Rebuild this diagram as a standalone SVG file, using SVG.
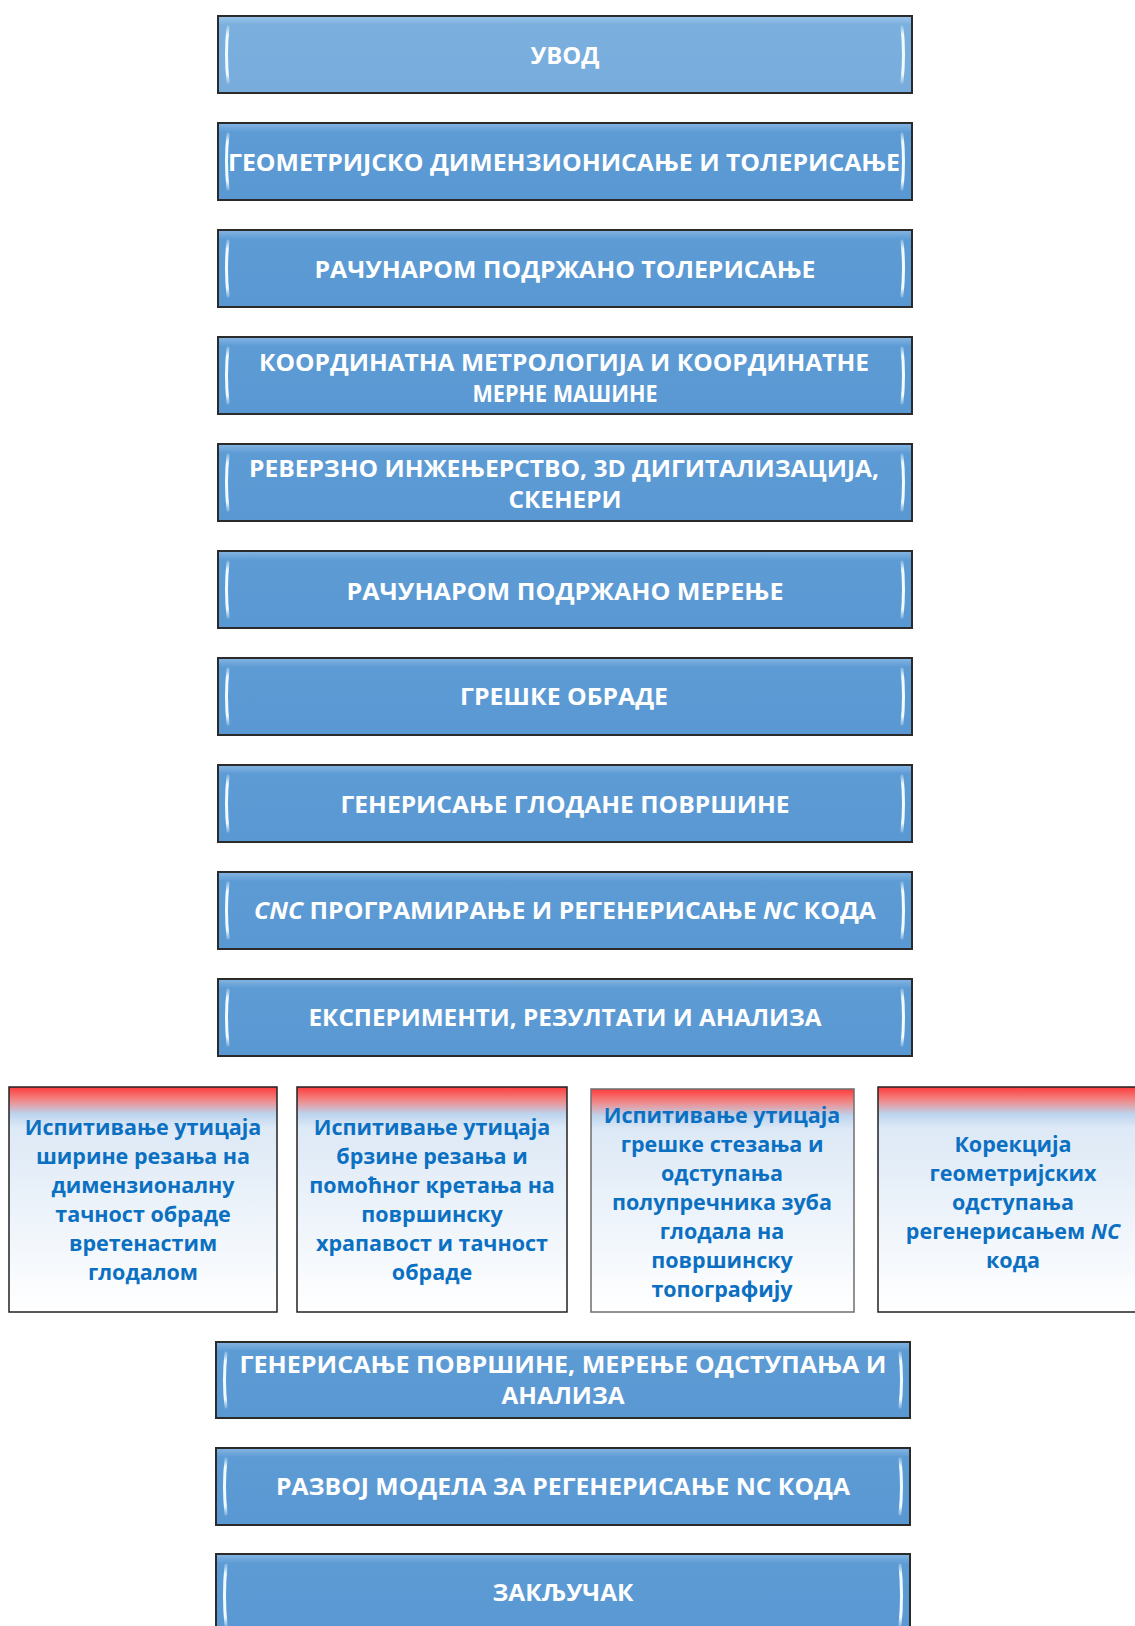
<svg xmlns="http://www.w3.org/2000/svg" width="1135" height="1626" viewBox="0 0 1135 1626">
<defs>
<linearGradient id="gTop" x1="0" y1="0" x2="0" y2="1">
<stop offset="0" stop-color="#9cc5ea"/><stop offset="0.12" stop-color="#7aafde"/><stop offset="1" stop-color="#78acdc"/>
</linearGradient>
<linearGradient id="gMain" x1="0" y1="0" x2="0" y2="1">
<stop offset="0" stop-color="#86b6e2"/><stop offset="0.12" stop-color="#5d9bd5"/><stop offset="1" stop-color="#5a98d3"/>
</linearGradient>
<linearGradient id="gSmall" x1="0" y1="0" x2="0" y2="1">
<stop offset="0" stop-color="#ff3b3b"/><stop offset="0.06" stop-color="#f08a8a"/><stop offset="0.12" stop-color="#bcd4ee"/><stop offset="0.18" stop-color="#dde9f6"/><stop offset="1" stop-color="#ffffff"/>
</linearGradient>
<linearGradient id="gEdge" x1="0" y1="0" x2="0" y2="1">
<stop offset="0" stop-color="#f0fbff" stop-opacity="0.3"/><stop offset="0.15" stop-color="#f0fbff"/><stop offset="0.85" stop-color="#f0fbff"/><stop offset="1" stop-color="#f0fbff" stop-opacity="0.3"/>
</linearGradient>
</defs>
<style>
.box{stroke:#2b2b2b;stroke-width:2}
.edge{fill:none;stroke:url(#gEdge);stroke-width:3;stroke-linecap:round}
.t{font-family:"Open Sans","Liberation Sans",sans-serif;font-weight:bold;font-size:24px;fill:#ffffff;text-anchor:middle;dominant-baseline:central}
.s{font-family:"Open Sans","Liberation Sans",sans-serif;font-weight:bold;font-size:21.5px;fill:#0b70c2;text-anchor:middle;dominant-baseline:central}
.sb{stroke:#222;stroke-width:1.5;fill:url(#gSmall)}
</style>

<g id="n1">
<rect class="box" x="218" y="16" width="694" height="77" fill="url(#gTop)"/>
<path class="edge" d="M228 27 Q225 54 228 82 M902 27 Q905 54 902 82"/>
<text class="t" x="565" y="54" textLength="69" lengthAdjust="spacingAndGlyphs">УВОД</text>
</g>
<g id="n2">
<rect class="box" x="218" y="123" width="694" height="77" fill="url(#gMain)"/>
<path class="edge" d="M228 134 Q225 161 228 189 M902 134 Q905 161 902 189"/>
<text class="t" x="564" y="161" textLength="672" lengthAdjust="spacingAndGlyphs">ГЕОМЕТРИЈСКО ДИМЕНЗИОНИСАЊЕ И ТОЛЕРИСАЊЕ</text>
</g>
<g id="n3">
<rect class="box" x="218" y="230" width="694" height="77" fill="url(#gMain)"/>
<path class="edge" d="M228 241 Q225 268 228 296 M902 241 Q905 268 902 296"/>
<text class="t" x="565" y="268" textLength="501" lengthAdjust="spacingAndGlyphs">РАЧУНАРОМ ПОДРЖАНО ТОЛЕРИСАЊЕ</text>
</g>
<g id="n4">
<rect class="box" x="218" y="337" width="694" height="77" fill="url(#gMain)"/>
<path class="edge" d="M228 348 Q225 375 228 403 M902 348 Q905 375 902 403"/>
<text class="t" x="564" y="361" textLength="610" lengthAdjust="spacingAndGlyphs">КООРДИНАТНА МЕТРОЛОГИЈА И КООРДИНАТНЕ</text>
<text class="t" x="565" y="392" textLength="185" lengthAdjust="spacingAndGlyphs">МЕРНЕ МАШИНЕ</text>
</g>
<g id="n5">
<rect class="box" x="218" y="444" width="694" height="77" fill="url(#gMain)"/>
<path class="edge" d="M228 455 Q225 482 228 510 M902 455 Q905 482 902 510"/>
<text class="t" x="564" y="467" textLength="630" lengthAdjust="spacingAndGlyphs">РЕВЕРЗНО ИНЖЕЊЕРСТВО, 3D ДИГИТАЛИЗАЦИЈА,</text>
<text class="t" x="565" y="498" textLength="113" lengthAdjust="spacingAndGlyphs">СКЕНЕРИ</text>
</g>
<g id="n6">
<rect class="box" x="218" y="551" width="694" height="77" fill="url(#gMain)"/>
<path class="edge" d="M228 562 Q225 589 228 617 M902 562 Q905 589 902 617"/>
<text class="t" x="565" y="590" textLength="437" lengthAdjust="spacingAndGlyphs">РАЧУНАРОМ ПОДРЖАНО МЕРЕЊЕ</text>
</g>
<g id="n7">
<rect class="box" x="218" y="658" width="694" height="77" fill="url(#gMain)"/>
<path class="edge" d="M228 669 Q225 696 228 724 M902 669 Q905 696 902 724"/>
<text class="t" x="564" y="695" textLength="208" lengthAdjust="spacingAndGlyphs">ГРЕШКЕ ОБРАДЕ</text>
</g>
<g id="n8">
<rect class="box" x="218" y="765" width="694" height="77" fill="url(#gMain)"/>
<path class="edge" d="M228 776 Q225 803 228 831 M902 776 Q905 803 902 831"/>
<text class="t" x="565" y="803" textLength="449" lengthAdjust="spacingAndGlyphs">ГЕНЕРИСАЊЕ ГЛОДАНЕ ПОВРШИНЕ</text>
</g>
<g id="n9">
<rect class="box" x="218" y="872" width="694" height="77" fill="url(#gMain)"/>
<path class="edge" d="M228 883 Q225 910 228 938 M902 883 Q905 910 902 938"/>
<text class="t" x="565" y="909" textLength="622" lengthAdjust="spacingAndGlyphs"><tspan font-style="italic">CNC</tspan> ПРОГРАМИРАЊЕ И РЕГЕНЕРИСАЊЕ <tspan font-style="italic">NC</tspan> КОДА</text>
</g>
<g id="n10">
<rect class="box" x="218" y="979" width="694" height="77" fill="url(#gMain)"/>
<path class="edge" d="M228 990 Q225 1017 228 1045 M902 990 Q905 1017 902 1045"/>
<text class="t" x="565" y="1016" textLength="513" lengthAdjust="spacingAndGlyphs">ЕКСПЕРИМЕНТИ, РЕЗУЛТАТИ И АНАЛИЗА</text>
</g>

<g id="s1">
<rect class="sb" x="9" y="1087" width="268" height="225"/>
<text class="s" x="143" y="1126">Испитивање утицаја</text>
<text class="s" x="143" y="1155">ширине резања  на</text>
<text class="s" x="143" y="1184">димензионалну</text>
<text class="s" x="143" y="1213">тачност обраде</text>
<text class="s" x="143" y="1242">вретенастим</text>
<text class="s" x="143" y="1271">глодалом</text>
</g>
<g id="s2">
<rect class="sb" x="297" y="1087" width="270" height="225"/>
<text class="s" x="432" y="1126">Испитивање утицаја</text>
<text class="s" x="432" y="1155">брзине резања и</text>
<text class="s" x="432" y="1184">помоћног кретања на</text>
<text class="s" x="432" y="1213">површинску</text>
<text class="s" x="432" y="1242">храпавост и тачност</text>
<text class="s" x="432" y="1271">обраде</text>
</g>
<g id="s3">
<rect class="sb" x="591" y="1089" width="263" height="223" style="stroke:#6e6e6e"/>
<text class="s" x="722" y="1114">Испитивање утицаја</text>
<text class="s" x="722" y="1143">грешке стезања и</text>
<text class="s" x="722" y="1172">одступања</text>
<text class="s" x="722" y="1201">полупречника зуба</text>
<text class="s" x="722" y="1230">глодала на</text>
<text class="s" x="722" y="1259">површинску</text>
<text class="s" x="722" y="1288">топографију</text>
</g>
<g id="s4">
<rect class="sb" x="878" y="1087" width="270" height="225"/>
<text class="s" x="1013" y="1143">Корекција</text>
<text class="s" x="1013" y="1172">геометријских</text>
<text class="s" x="1013" y="1201">одступања</text>
<text class="s" x="1013" y="1230">регенерисањем <tspan font-style="italic">NC</tspan></text>
<text class="s" x="1013" y="1259">кода</text>
</g>

<g id="n11">
<rect class="box" x="216" y="1342" width="694" height="76" fill="url(#gMain)"/>
<path class="edge" d="M226 1353 Q223 1380 226 1407 M900 1353 Q903 1380 900 1407"/>
<text class="t" x="563" y="1363" textLength="647" lengthAdjust="spacingAndGlyphs">ГЕНЕРИСАЊЕ ПОВРШИНЕ, МЕРЕЊЕ ОДСТУПАЊА И</text>
<text class="t" x="563" y="1394" textLength="123" lengthAdjust="spacingAndGlyphs">АНАЛИЗА</text>
</g>
<g id="n12">
<rect class="box" x="216" y="1448" width="694" height="77" fill="url(#gMain)"/>
<path class="edge" d="M226 1459 Q223 1486 226 1514 M900 1459 Q903 1486 900 1514"/>
<text class="t" x="563" y="1485" textLength="574" lengthAdjust="spacingAndGlyphs">РАЗВОЈ МОДЕЛА ЗА РЕГЕНЕРИСАЊЕ NC КОДА</text>
</g>
<g id="n13">
<rect class="box" x="216" y="1554" width="694" height="80" fill="url(#gMain)"/>
<path class="edge" d="M226 1565 Q223 1595 226 1626 M900 1565 Q903 1595 900 1626"/>
<text class="t" x="563" y="1591" textLength="141" lengthAdjust="spacingAndGlyphs">ЗАКЉУЧАК</text>
</g>

<g id="connectors"/>
</svg>
